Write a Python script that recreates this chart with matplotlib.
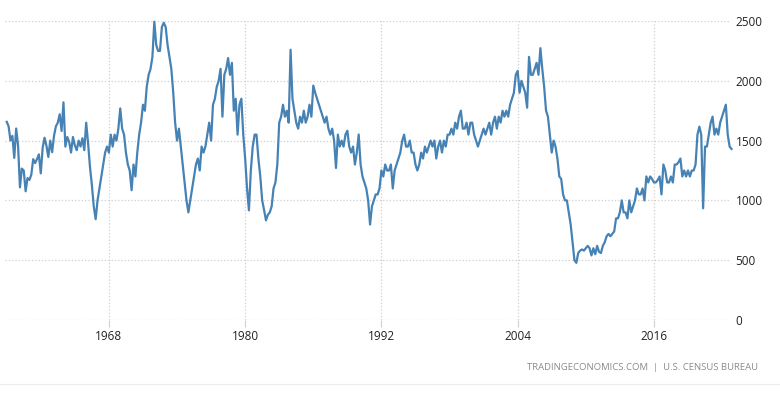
"""
US housing starts, 1959-2022 (TradingEconomics style line chart)
"""
import matplotlib
matplotlib.use('Agg')
import matplotlib.pyplot as plt
import numpy as np

LINE = '#4682b4'
GRID = '#cfcfcf'
TEXT = '#222222'
FOOT = '#8a8a8a'

FIRST_YEAR = 1959
PER_YEAR = 6   # readings per year

# thousands of units, one row per year
starts = [
    1657, 1620, 1500, 1540, 1355, 1601,   # 1959
    1460, 1109, 1266, 1250, 1076, 1187,   # 1960
    1171, 1215, 1345, 1312, 1345, 1385,   # 1961
    1226, 1440, 1524, 1457, 1363, 1500,   # 1962
    1403, 1540, 1620, 1650, 1720, 1580,   # 1963
    1820, 1450, 1530, 1490, 1400, 1530,   # 1964
    1460, 1420, 1500, 1450, 1520, 1420,   # 1965
    1650, 1480, 1280, 1130, 950, 843,     # 1966
    1000, 1100, 1200, 1300, 1400, 1450,   # 1967
    1400, 1550, 1450, 1550, 1500, 1600,   # 1968
    1769, 1600, 1550, 1400, 1300, 1250,   # 1969
    1085, 1300, 1200, 1400, 1550, 1650,   # 1970
    1800, 1750, 1950, 2050, 2100, 2200,   # 1971
    2494, 2300, 2250, 2250, 2450, 2485,   # 1972
    2450, 2300, 2200, 2100, 1900, 1650,   # 1973
    1500, 1600, 1450, 1300, 1150, 1000,   # 1974
    900, 1000, 1100, 1200, 1300, 1350,    # 1975
    1250, 1450, 1400, 1450, 1550, 1650,   # 1976
    1500, 1800, 1850, 1950, 2000, 2100,   # 1977
    1700, 2050, 2100, 2190, 2050, 2150,   # 1978
    1750, 1850, 1550, 1800, 1850, 1550,   # 1979
    1350, 1100, 917, 1250, 1450, 1550,    # 1980
    1550, 1350, 1200, 1000, 920, 833,     # 1981
    880, 900, 950, 1100, 1150, 1300,      # 1982
    1650, 1700, 1800, 1700, 1750, 1650,   # 1983
    2260, 1850, 1750, 1650, 1600, 1700,   # 1984
    1650, 1750, 1650, 1700, 1800, 1700,   # 1985
    1960, 1900, 1850, 1800, 1750, 1700,   # 1986
    1650, 1700, 1600, 1550, 1600, 1500,   # 1987
    1271, 1550, 1450, 1500, 1450, 1550,   # 1988
    1583, 1450, 1400, 1450, 1300, 1400,   # 1989
    1551, 1300, 1200, 1150, 1100, 1000,   # 1990
    798, 950, 1000, 1050, 1050, 1100,     # 1991
    1250, 1200, 1300, 1250, 1250, 1300,   # 1992
    1100, 1250, 1300, 1350, 1400, 1500,   # 1993
    1550, 1450, 1450, 1500, 1400, 1400,   # 1994
    1300, 1250, 1300, 1400, 1350, 1450,   # 1995
    1400, 1450, 1500, 1450, 1500, 1350,   # 1996
    1450, 1500, 1400, 1500, 1450, 1550,   # 1997
    1550, 1600, 1550, 1650, 1600, 1700,   # 1998
    1750, 1600, 1600, 1650, 1550, 1650,   # 1999
    1650, 1550, 1500, 1450, 1500, 1550,   # 2000
    1600, 1550, 1600, 1650, 1550, 1650,   # 2001
    1700, 1600, 1700, 1650, 1750, 1700,   # 2002
    1750, 1700, 1800, 1850, 1900, 2050,   # 2003
    2083, 1900, 2000, 1950, 1900, 1775,   # 2004
    2200, 2050, 2050, 2100, 2150, 2050,   # 2005
    2273, 2100, 1950, 1750, 1700, 1550,   # 2006
    1400, 1500, 1450, 1350, 1200, 1180,   # 2007
    1050, 1000, 1000, 900, 800, 650,      # 2008
    500, 478, 560, 580, 590, 580,         # 2009
    600, 620, 600, 540, 600, 550,         # 2010
    620, 570, 560, 620, 650, 700,         # 2011
    720, 700, 720, 740, 850, 850,         # 2012
    900, 1000, 900, 900, 850, 1000,       # 2013
    900, 950, 1000, 1100, 1050, 1050,     # 2014
    1100, 1000, 1200, 1150, 1200, 1180,   # 2015
    1150, 1150, 1170, 1200, 1050, 1300,   # 2016
    1250, 1150, 1150, 1200, 1150, 1300,   # 2017
    1300, 1320, 1350, 1200, 1250, 1200,   # 2018
    1250, 1200, 1250, 1250, 1300, 1550,   # 2019
    1617, 1550, 934, 1450, 1450, 1550,    # 2020
    1650, 1700, 1550, 1600, 1550, 1650,   # 2021
    1700, 1750, 1800, 1550, 1450, 1430,   # 2022
]

year_ticks = [1968, 1980, 1992, 2004, 2016]
value_ticks = [0, 500, 1000, 1500, 2000, 2500]

t = FIRST_YEAR + np.arange(len(starts)) / PER_YEAR

fig = plt.figure(figsize=(7.8, 3.94), dpi=100)
fig.patch.set_facecolor('white')
ax = fig.add_axes([5/780, 1 - 320/394, 725/780, 299/394])

ax.plot(t, starts, color=LINE, linewidth=1.6, solid_joinstyle='round',
        clip_on=False, zorder=3)

ax.set_xlim(1958.85, 2022.7)
ax.set_ylim(0, 2500)
ax.set_xticks(year_ticks)
ax.set_yticks(value_ticks)
ax.yaxis.tick_right()
ax.tick_params(axis='y', length=0, pad=4, labelsize=8.5, labelcolor=TEXT)
ax.tick_params(axis='x', length=5, color=GRID, width=0.8, pad=2,
               labelsize=8.5, labelcolor=TEXT)
for lab in ax.get_xticklabels() + ax.get_yticklabels():
    lab.set_fontfamily('Open Sans')

ax.grid(True, color=GRID, linestyle=':', linewidth=0.9, zorder=0)
for s in ax.spines.values():
    s.set_visible(False)

fig.text(758/780, 1 - 367/394, 'TRADINGECONOMICS.COM  |  U.S. CENSUS BUREAU',
         ha='right', va='center', fontsize=6.8, color=FOOT,
         family='Open Sans')
fig.add_artist(plt.Line2D([0, 1], [1 - 384/394] * 2, color='#ececec',
                          linewidth=0.8, transform=fig.transFigure))

fig.savefig('out.png', dpi=100, facecolor='white')
plt.close()
